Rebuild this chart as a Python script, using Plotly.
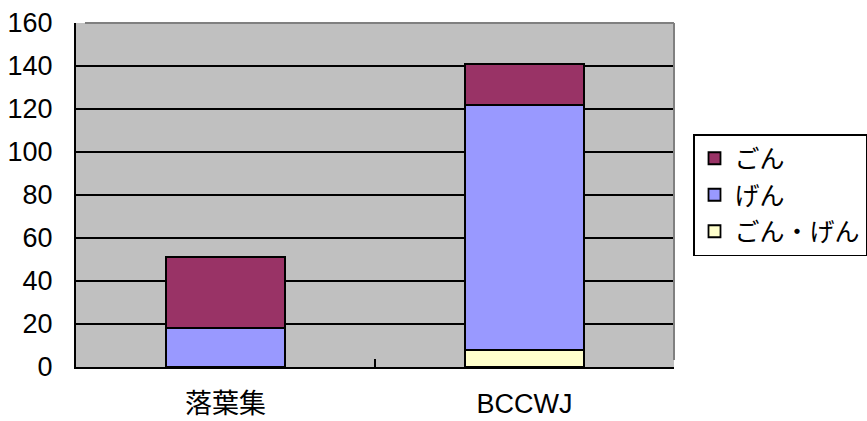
import plotly.graph_objects as go

categories = ["落葉集", "BCCWJ"]
series_names = ["ごん・げん", "げん", "ごん"]
gon_gen = [0, 8]
gen = [18, 114]
gon = [33, 19]
colors = {"ごん・げん": "#FFFFCC", "げん": "#9999FF", "ごん": "#993366"}
legend_rank = {"ごん": 1, "げん": 2, "ごん・げん": 3}
y_ticks = [0, 20, 40, 60, 80, 100, 120, 140, 160]

FONT = "Liberation Sans, Arial, Noto Sans CJK JP, sans-serif"

fig = go.Figure()
for name, vals in zip(series_names, [gon_gen, gen, gon]):
    fig.add_trace(go.Bar(
        x=categories, y=vals, name=name, legendgroup=name, legendrank=legend_rank[name],
        marker=dict(color=colors[name], line=dict(color="black", width=1.8)),
        width=0.4,
    ))

fig.update_layout(
    width=867, height=421,
    margin=dict(l=76, r=193, t=23, b=54, autoexpand=False),
    barmode="stack",
    paper_bgcolor="white",
    plot_bgcolor="#C0C0C0",
    font=dict(family=FONT, size=26, color="black"),
    showlegend=True,
    legend=dict(
        xref="container", yref="container",
        x=693 / 867, y=1 - 134 / 421, xanchor="left", yanchor="top",
        bgcolor="white", bordercolor="black", borderwidth=1.5,
        traceorder="grouped", tracegroupgap=1,
        font=dict(family="Noto Sans CJK JP, sans-serif", size=25),
    ),
    xaxis=dict(
        type="category", showgrid=False, showline=True, linecolor="black", linewidth=2,
        ticks="inside", ticklen=8, tickwidth=1.5, tickcolor="black", tickson="boundaries",
        tickfont=dict(size=27), ticklabelstandoff=12, automargin=False,
    ),
    yaxis=dict(
        range=[0, 160], tickvals=y_ticks, showgrid=True, gridcolor="black", gridwidth=1.5,
        showline=True, linecolor="black", linewidth=2,
        ticks="inside", ticklen=9, tickwidth=1.5, tickcolor="black",
        tickfont=dict(size=27), ticklabelstandoff=16, zeroline=False, automargin=False,
    ),
    shapes=[
        dict(type="line", xref="paper", yref="paper", x0=0.015, x1=1, y0=1, y1=1,
             line=dict(color="#808080", width=2), layer="above"),
        dict(type="line", xref="paper", yref="paper", x0=1, x1=1, y0=0.02, y1=1,
             line=dict(color="#808080", width=2), layer="above"),
    ],
)

fig.write_html("out.html")
